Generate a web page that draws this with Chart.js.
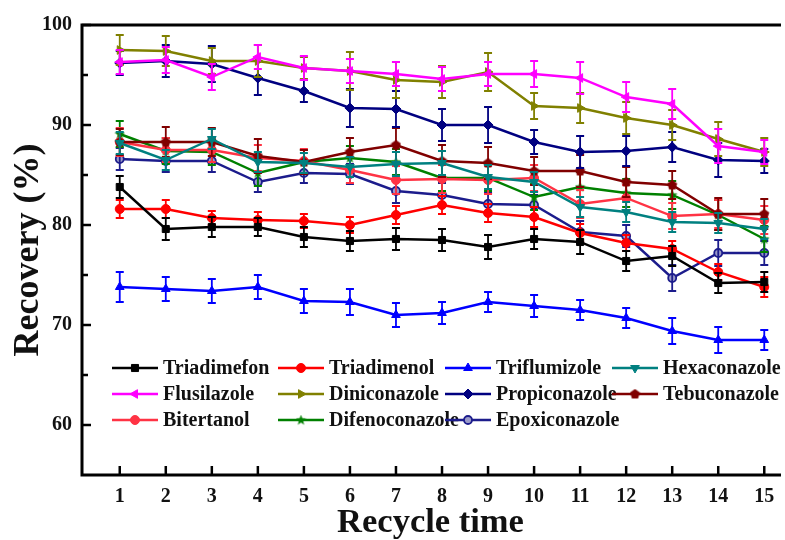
<!DOCTYPE html>
<html>
<head>
<meta charset="utf-8">
<script src="https://cdn.jsdelivr.net/npm/chart.js@4/dist/chart.umd.min.js"></script>
<style>
  html, body { margin: 0; padding: 0; background: #fff; }
  #wrap { width: 785px; height: 540px; }
</style>
</head>
<body>
<div id="wrap"><canvas id="chart"></canvas></div>
<script>
// x categories and tick values
const recycleTimes = [1, 2, 3, 4, 5, 6, 7, 8, 9, 10, 11, 12, 13, 14, 15];
const yTicks = [60, 70, 80, 90, 100];
const yMinorTicks = [65, 75, 85, 95];

// recovery (%) per pesticide, with +/- error
const triadimefon    = [83.8, 79.6, 79.8, 79.8, 78.8, 78.4, 78.6, 78.5, 77.8, 78.6, 78.3, 76.4, 76.9, 74.2, 74.3];
const triadimefonErr = [1.1, 1.1, 1.0, 0.9, 1.0, 1.0, 1.1, 1.1, 1.2, 1.0, 1.2, 1.0, 1.0, 1.0, 1.0];
const triadimenol    = [81.6, 81.6, 80.7, 80.5, 80.4, 80.0, 81.0, 82.0, 81.2, 80.8, 79.2, 78.2, 77.6, 75.3, 73.8];
const triadimenolErr = [0.9, 0.9, 0.7, 0.8, 0.7, 0.8, 0.9, 0.9, 0.9, 1.0, 0.9, 0.8, 0.8, 0.8, 1.0];
const triflumizole    = [73.8, 73.6, 73.4, 73.8, 72.4, 72.3, 71.0, 71.2, 72.3, 71.9, 71.5, 70.7, 69.4, 68.5, 68.5];
const triflumizoleErr = [1.5, 1.2, 1.2, 1.2, 1.2, 1.3, 1.2, 1.1, 1.0, 1.1, 1.0, 1.0, 1.3, 1.3, 1.0];
const hexaconazole    = [88.2, 86.5, 88.6, 86.3, 86.2, 85.8, 86.1, 86.2, 84.8, 84.3, 81.8, 81.3, 80.3, 80.2, 79.6];
const hexaconazoleErr = [1.1, 1.0, 1.0, 1.0, 1.0, 1.0, 1.2, 1.2, 1.2, 1.0, 1.0, 1.0, 1.0, 1.0, 1.0];
const flusilazole    = [96.3, 96.5, 94.8, 96.8, 95.7, 95.4, 95.1, 94.6, 95.1, 95.1, 94.7, 92.8, 92.1, 87.9, 87.3];
const flusilazoleErr = [1.2, 1.3, 1.3, 1.2, 1.2, 1.2, 1.2, 1.2, 1.2, 1.3, 1.6, 1.5, 1.5, 1.7, 1.2];
const diniconazole    = [97.5, 97.4, 96.4, 96.4, 95.7, 95.4, 94.5, 94.3, 95.3, 91.9, 91.7, 90.7, 90.0, 88.6, 87.3];
const diniconazoleErr = [1.5, 1.5, 1.3, 1.6, 1.1, 1.9, 1.8, 1.6, 1.9, 1.3, 1.5, 1.6, 1.5, 1.7, 1.4];
const propiconazole    = [96.2, 96.4, 96.1, 94.7, 93.4, 91.7, 91.6, 90.0, 90.0, 88.3, 87.3, 87.4, 87.8, 86.5, 86.4];
const propiconazoleErr = [1.2, 1.6, 1.8, 1.7, 1.1, 1.9, 1.8, 1.6, 1.8, 1.2, 1.6, 1.5, 1.5, 1.7, 1.2];
const tebuconazole    = [88.3, 88.3, 88.3, 86.9, 86.3, 87.3, 88.0, 86.4, 86.2, 85.4, 85.4, 84.3, 84.0, 81.1, 81.1];
const tebuconazoleErr = [1.3, 1.5, 1.4, 1.7, 1.2, 1.4, 1.7, 1.6, 1.6, 1.4, 1.6, 1.5, 1.4, 1.6, 1.5];
const bitertanol    = [88.3, 87.5, 87.5, 86.7, 86.4, 85.5, 84.5, 84.6, 84.5, 84.7, 82.1, 82.7, 80.9, 81.1, 80.5];
const bitertanolErr = [1.4, 1.2, 1.2, 1.3, 1.2, 1.3, 1.4, 1.4, 1.4, 1.3, 1.4, 1.3, 1.3, 1.4, 1.4];
const difenoconazole    = [89.1, 87.4, 87.3, 85.2, 86.3, 86.7, 86.3, 84.7, 84.7, 82.8, 83.8, 83.2, 83.0, 81.0, 78.6];
const difenoconazoleErr = [1.3, 1.3, 1.3, 1.3, 1.2, 1.2, 1.3, 1.3, 1.3, 1.3, 1.5, 1.4, 1.4, 1.5, 1.3];
const epoxiconazole    = [86.6, 86.4, 86.4, 84.3, 85.2, 85.1, 83.4, 83.0, 82.1, 82.0, 79.3, 78.9, 74.7, 77.2, 77.2];
const epoxiconazoleErr = [1.1, 1.1, 1.1, 1.0, 1.0, 1.0, 1.2, 1.2, 1.1, 1.0, 1.1, 1.1, 1.3, 1.3, 1.2];

const SERIF = '"Liberation Serif", "Times New Roman", serif';

// little images for markers chart.js has no shape for
function shapeImage(color, drawFn) {
  const c = document.createElement("canvas");
  c.width = 11; c.height = 11;
  const g = c.getContext("2d");
  g.fillStyle = color;
  g.beginPath();
  drawFn(g);
  g.closePath();
  g.fill();
  return c;
}
function polyPath(g, n, rOut, rIn) {
  const pts = rIn ? n * 2 : n;
  for (let i = 0; i < pts; i++) {
    const r = rIn && i % 2 ? rIn : rOut;
    const a = -Math.PI / 2 + (i * 2 * Math.PI) / pts;
    const px = 5.5 + r * Math.cos(a), py = 5.7 + r * Math.sin(a);
    if (i === 0) g.moveTo(px, py); else g.lineTo(px, py);
  }
}
const pentagon = shapeImage("#800000", (g) => polyPath(g, 5, 5.2));
const star = shapeImage("#008000", (g) => polyPath(g, 5, 5.5, 2.3));

function series(label, data, err, color, style, extra) {
  return Object.assign({
    label: label,
    data: data.map((v, i) => ({ x: recycleTimes[i], y: v })),
    err: err,
    borderColor: color,
    backgroundColor: color,
    pointBackgroundColor: color,
    pointBorderColor: color,
    pointStyle: style,
    pointRadius: 4.5,
    pointBorderWidth: 1,
    borderWidth: 2.4,
  }, extra || {});
}

const datasets = [
  series("Triadimefon", triadimefon, triadimefonErr, "#000000", "rect", { pointRadius: 5 }),
  series("Triadimenol", triadimenol, triadimenolErr, "#ff0000", "circle"),
  series("Triflumizole", triflumizole, triflumizoleErr, "#0000ff", "triangle", { pointRadius: 5 }),
  series("Hexaconazole", hexaconazole, hexaconazoleErr, "#008080", "triangle", { pointRadius: 5, pointRotation: 180 }),
  series("Flusilazole", flusilazole, flusilazoleErr, "#ff00ff", "triangle", { pointRadius: 5, pointRotation: 270 }),
  series("Diniconazole", diniconazole, diniconazoleErr, "#808000", "triangle", { pointRadius: 5, pointRotation: 90 }),
  series("Propiconazole", propiconazole, propiconazoleErr, "#000080", "rectRot", { pointRadius: 5 }),
  series("Tebuconazole", tebuconazole, tebuconazoleErr, "#800000", pentagon),
  series("Bitertanol", bitertanol, bitertanolErr, "#ff3344", "circle"),
  series("Difenoconazole", difenoconazole, difenoconazoleErr, "#008000", star),
  series("Epoxiconazole", epoxiconazole, epoxiconazoleErr, "#1c1c8c", "circle",
    { pointBackgroundColor: "#9a9ac8", pointBorderWidth: 1.8, pointRadius: 4 }),
];

// error bars, drawn right after each line
const errorBars = {
  id: "errorBars",
  afterDatasetDraw(chart, args) {
    const ds = chart.data.datasets[args.index];
    const xs = chart.scales.x, ys = chart.scales.y;
    const ctx = chart.ctx;
    ctx.save();
    ctx.strokeStyle = ds.borderColor;
    ctx.lineWidth = 1.8;
    ds.data.forEach((p, i) => {
      const px = xs.getPixelForValue(p.x);
      const t = ys.getPixelForValue(p.y + ds.err[i]);
      const b = ys.getPixelForValue(p.y - ds.err[i]);
      ctx.beginPath();
      ctx.moveTo(px, t); ctx.lineTo(px, b);
      ctx.moveTo(px - 4, t); ctx.lineTo(px + 4, t);
      ctx.moveTo(px - 4, b); ctx.lineTo(px + 4, b);
      ctx.stroke();
    });
    ctx.restore();
  },
};

// frame with inward ticks, plus the legend box inside the plot
const frameAndLegend = {
  id: "frameAndLegend",
  afterDraw(chart) {
    const { ctx, chartArea: a } = chart;
    const xs = chart.scales.x, ys = chart.scales.y;
    ctx.save();
    ctx.strokeStyle = "#000";
    ctx.lineWidth = 3;
    ctx.beginPath();
    ctx.moveTo(a.right + 2, a.top); ctx.lineTo(a.left, a.top);
    ctx.lineTo(a.left, a.bottom); ctx.lineTo(a.right + 2, a.bottom);
    ctx.stroke();
    ctx.lineWidth = 2.5;
    ctx.beginPath();
    yTicks.forEach((v) => {
      const py = ys.getPixelForValue(v);
      ctx.moveTo(a.left, py); ctx.lineTo(a.left + 9, py);
    });
    yMinorTicks.forEach((v) => {
      const py = ys.getPixelForValue(v);
      ctx.moveTo(a.left, py); ctx.lineTo(a.left + 6, py);
    });
    recycleTimes.forEach((v) => {
      const px = xs.getPixelForValue(v);
      ctx.moveTo(px, a.bottom); ctx.lineTo(px, a.bottom - 9);
    });
    ctx.stroke();

    // legend: 4 columns x 3 rows
    const colX = [112, 278, 445, 612];
    const rowY = [368, 394, 420];
    ctx.font = "bold 20px " + SERIF;
    ctx.textBaseline = "middle";
    ctx.textAlign = "left";
    chart.data.datasets.forEach((ds, i) => {
      const x0 = colX[i % 4], y0 = rowY[Math.floor(i / 4)];
      ctx.strokeStyle = ds.borderColor;
      ctx.lineWidth = ds.borderWidth;
      ctx.beginPath();
      ctx.moveTo(x0, y0); ctx.lineTo(x0 + 46, y0);
      ctx.stroke();
      ctx.fillStyle = ds.pointBackgroundColor;
      ctx.strokeStyle = ds.pointBorderColor;
      ctx.lineWidth = ds.pointBorderWidth;
      Chart.helpers.drawPoint(ctx, {
        pointStyle: ds.pointStyle,
        radius: ds.pointRadius,
        rotation: ds.pointRotation || 0,
        borderWidth: ds.pointBorderWidth,
      }, x0 + 23, y0);
      ctx.fillStyle = "#111";
      ctx.fillText(ds.label, x0 + 51, y0 + 1);
    });
    ctx.restore();
  },
};

new Chart(document.getElementById("chart"), {
  type: "line",
  data: { datasets: datasets },
  options: {
    responsive: true,
    maintainAspectRatio: false,
    animation: false,
    layout: { padding: { top: 25, right: 0, left: 0, bottom: 0 } },
    plugins: { legend: { display: false }, tooltip: { enabled: false } },
    scales: {
      x: {
        type: "linear",
        min: 0.18,
        max: 15.32,
        afterBuildTicks: (s) => { s.ticks = recycleTimes.map((v) => ({ value: v })); },
        afterFit: (s) => { s.height = 65; },
        grid: { display: false, drawTicks: false },
        border: { display: false },
        ticks: { padding: 10, color: "#111", font: { family: SERIF, size: 20, weight: "bold" } },
        title: {
          display: true,
          text: "Recycle time",
          color: "#111",
          padding: { top: 0, bottom: 0 },
          font: { family: SERIF, size: 34.5, weight: "bold", lineHeight: 1.0 },
        },
      },
      y: {
        min: 55,
        max: 100,
        afterBuildTicks: (s) => { s.ticks = yTicks.map((v) => ({ value: v })); },
        afterFit: (s) => { s.width = 82; },
        grid: { display: false, drawTicks: false },
        border: { display: false },
        ticks: { padding: 10, color: "#111", font: { family: SERIF, size: 20, weight: "bold" } },
        title: {
          display: true,
          text: "Recovery (%)",
          color: "#111",
          padding: { top: 11, bottom: 0 },
          font: { family: SERIF, size: 36, weight: "bold", lineHeight: 1.0 },
        },
      },
    },
  },
  plugins: [errorBars, frameAndLegend],
});
</script>
</body>
</html>
